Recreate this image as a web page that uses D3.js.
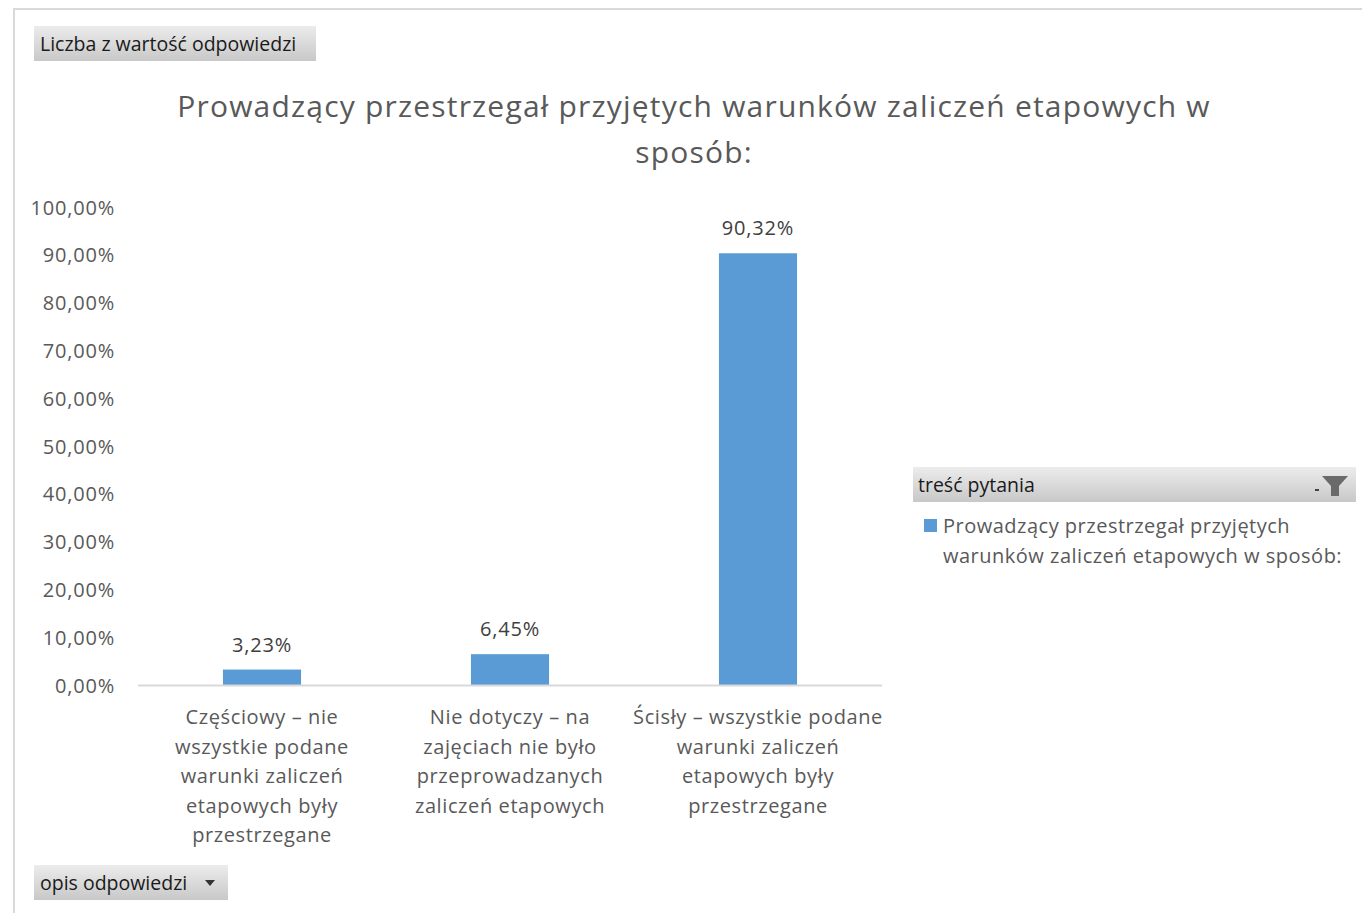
<!DOCTYPE html>
<html>
<head>
<meta charset="utf-8">
<script src="https://cdn.jsdelivr.net/npm/d3@7"></script>
<style>
  body { margin: 0; background: #fff; }
  svg { display: block; font-family: "Open Sans", "Noto Sans", sans-serif; }
</style>
</head>
<body>
<script>
// dane z wykresu
const categories = [
    ["Częściowy – nie", "wszystkie podane", "warunki zaliczeń", "etapowych były", "przestrzegane"],
    ["Nie dotyczy – na", "zajęciach nie było", "przeprowadzanych", "zaliczeń etapowych"],
    ["Ścisły – wszystkie podane", "warunki zaliczeń", "etapowych były", "przestrzegane"]
];
const values = [3.23, 6.45, 90.32];
const ticks = [0, 10, 20, 30, 40, 50, 60, 70, 80, 90, 100];
const title = ["Prowadzący przestrzegał przyjętych warunków zaliczeń etapowych w", "sposób:"];
const seriesName = ["Prowadzący przestrzegał przyjętych", "warunków zaliczeń etapowych w sposób:"];

const width = 1362, height = 913;
const fmt = v => v.toFixed(2).replace('.', ',') + '%';

let svg = d3.select("body").append("svg")
    .attr("width", width)
    .attr("height", height);

let defs = svg.append("defs");
let grad = defs.append("linearGradient").attr("id", "btn").attr("x1", 0).attr("y1", 0).attr("x2", 0).attr("y2", 1);
grad.append("stop").attr("offset", "0%").attr("stop-color", "#ececec");
grad.append("stop").attr("offset", "100%").attr("stop-color", "#c8c8c8");

// ramka
svg.append("path")
    .attr("d", "M14,913 V9 H1362")
    .attr("fill", "none")
    .attr("stroke", "#d9d9d9")
    .attr("stroke-width", 2);

// przyciski pivot
function button(x, y, w, h, text, arrow) {
    svg.append("rect").attr("x", x).attr("y", y).attr("width", w).attr("height", h).attr("fill", "url(#btn)");
    svg.append("text").attr("x", x + 6).attr("y", y + h / 2 + 7)
        .attr("font-size", 19.5).attr("fill", "#1a1a1a").text(text);
    if (arrow) {
        svg.append("path").attr("d", `M${x + w - 23},${y + 15} h10 l-5,6 z`).attr("fill", "#333");
    }
}
button(34, 26, 282, 35, "Liczba z wartość odpowiedzi", false);
button(34, 865, 194, 35, "opis odpowiedzi", true);

// tytuł
svg.append("text")
    .attr("x", 694).attr("y", 117)
    .attr("text-anchor", "middle")
    .attr("font-size", 30).attr("fill", "#595959")
    .attr("letter-spacing", 1.2)
    .selectAll("tspan").data(title).join("tspan")
    .attr("x", 694).attr("dy", (d, i) => i ? 46 : 0)
    .text(d => d);

let x = d3.scaleBand().domain(d3.range(values.length)).range([138, 882]).paddingInner(0.685).paddingOuter(0.3425);
let y = d3.scaleLinear().domain([0, 100]).range([685, 207]);

// oś Y
let yAxis = svg.append("g").attr("transform", "translate(118,0)")
    .call(d3.axisLeft(y).tickValues(ticks).tickSize(0).tickFormat(fmt));
yAxis.select(".domain").remove();
yAxis.selectAll("text").attr("font-size", 20).attr("fill", "#595959")
    .attr("font-family", "Open Sans, sans-serif").attr("letter-spacing", 0.8)
    .attr("dy", "0.35em").attr("x", -3);

// słupki
svg.selectAll("rect.bar").data(values).join("rect")
    .attr("class", "bar")
    .attr("x", (d, i) => x(i))
    .attr("width", x.bandwidth())
    .attr("y", d => y(d))
    .attr("height", d => y(0) - y(d))
    .attr("fill", "#5b9bd5");

// oś X
svg.append("line").attr("x1", 138).attr("x2", 882).attr("y1", 685.5).attr("y2", 685.5)
    .attr("stroke", "#d9d9d9").attr("stroke-width", 2);

// etykiety danych
svg.selectAll("text.lbl").data(values).join("text")
    .attr("class", "lbl")
    .attr("x", (d, i) => x(i) + x.bandwidth() / 2)
    .attr("y", d => y(d) - 18)
    .attr("text-anchor", "middle")
    .attr("font-size", 20).attr("fill", "#404040")
    .attr("letter-spacing", 0.8)
    .text(fmt);

// etykiety kategorii
svg.selectAll("text.cat").data(categories).join("text")
    .attr("class", "cat")
    .attr("text-anchor", "middle")
    .attr("font-size", 20).attr("fill", "#595959")
    .attr("letter-spacing", 0.6)
    .each(function (lines, i) {
        let cx = x(i) + x.bandwidth() / 2;
        d3.select(this).selectAll("tspan").data(lines).join("tspan")
            .attr("x", cx)
            .attr("y", (d, j) => 724 + j * 29.5)
            .text(d => d);
    });

// legenda
svg.append("rect").attr("x", 913).attr("y", 467).attr("width", 443).attr("height", 35).attr("fill", "url(#btn)");
svg.append("text").attr("x", 918).attr("y", 492).attr("font-size", 19.5).attr("fill", "#1a1a1a").text("treść pytania");
svg.append("path").attr("d", "M1322,476 h26 l-9,10 v10 h-8 v-10 z").attr("fill", "#6a6a6a");
svg.append("rect").attr("x", 1315).attr("y", 489).attr("width", 4).attr("height", 2).attr("fill", "#444");

svg.append("rect").attr("x", 924).attr("y", 519).attr("width", 13).attr("height", 13).attr("fill", "#5b9bd5");
svg.append("text")
    .attr("font-size", 20).attr("fill", "#595959")
    .attr("letter-spacing", 0.5)
    .selectAll("tspan").data(seriesName).join("tspan")
    .attr("x", 943).attr("y", (d, i) => 533 + i * 29.5)
    .text(d => d);
</script>
</body>
</html>
